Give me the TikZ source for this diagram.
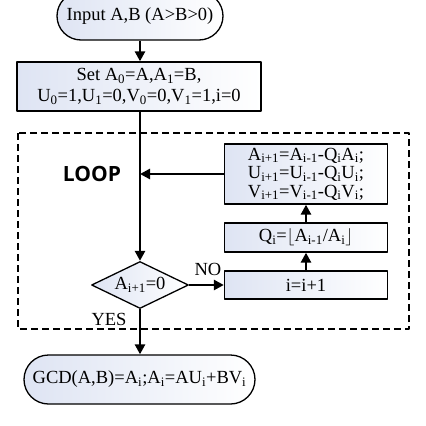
\documentclass[tikz,border=0pt]{standalone}
\usepackage{fontspec}
\setmainfont{Liberation Serif}
\newfontfamily\loopfont{Open Sans}
\usetikzlibrary{shapes.misc,shapes.geometric,arrows.meta}
\newcommand{\sbs}[1]{\textsubscript{#1}}
\definecolor{boxblue}{RGB}{222,228,243}
\begin{document}
\begin{tikzpicture}[x=1pt,y=-1pt,>={Triangle[length=10pt,width=10pt]}, line join=round,
	font=\fontsize{18.5}{18.5}\selectfont,
	box/.style={draw,line width=1.3pt,left color=boxblue,right color=white,inner sep=0pt,align=center},
	term/.style={box,rounded rectangle},
	flow/.style={->,line width=2.6pt}]
	\useasboundingbox (0,0) rectangle (426,426);
	% boxes
	\node[term,minimum width=166,minimum height=48] (input) at (140,16) {Input A,B (A>B>0)};
	\node[box,minimum width=244,minimum height=49,font=\fontsize{18.5}{21}\selectfont] (init) at (139,86.5)
		{Set A\sbs{0}=A,A\sbs{1}=B,\\U\sbs{0}=1,U\sbs{1}=0,V\sbs{0}=0,V\sbs{1}=1,i=0};
	\node[box,minimum width=163,minimum height=60] (update) at (306,174)
		{A\sbs{i+1}=A\sbs{i-1}-Q\sbs{i}A\sbs{i};\\U\sbs{i+1}=U\sbs{i-1}-Q\sbs{i}U\sbs{i};\\V\sbs{i+1}=V\sbs{i-1}-Q\sbs{i}V\sbs{i};};
	\node[box,minimum width=163,minimum height=29] (quot) at (306,237.5)
		{Q\sbs{i}=$\lfloor$A\sbs{i-1}/A\sbs{i}$\rfloor$};
	\node[box,minimum width=163,minimum height=28] (incr) at (306,285) {i=i+1};
	\node[box,diamond,aspect=2.06,minimum width=97,minimum height=47] (test) at (140,285) {A\sbs{i+1}=0};
	\node[term,minimum width=231,minimum height=49] (result) at (139.5,379.5)
		{GCD(A,B)=A\sbs{i};A\sbs{i}=AU\sbs{i}+BV\sbs{i}};
	% loop frame
	\draw[dash pattern=on 7pt off 4pt,line width=1.2pt] (18,133) rectangle (409,329);
	\node[font=\fontsize{21}{24}\loopfont\bfseries\selectfont] (loop) at (92,174) {LOOP};
	\node (no) at (208,269) {NO};
	\node (yes) at (109,319) {YES};
	\coordinate (join) at (140,174);
	% arrows
	\draw[flow] (input.south) -- (init.north -| input.south);
	\draw[flow] (init.south -| test.north) -- (test.north);
	\draw[flow] (update.west) -- (join);
	\draw[flow] (quot.north) -- (update.south);
	\draw[flow] (incr.north) -- (quot.south);
	\draw[flow] (test.east) -- (incr.west);
	\draw[flow] (test.south) -- (result.north -| test.south);
\end{tikzpicture}
\end{document}
